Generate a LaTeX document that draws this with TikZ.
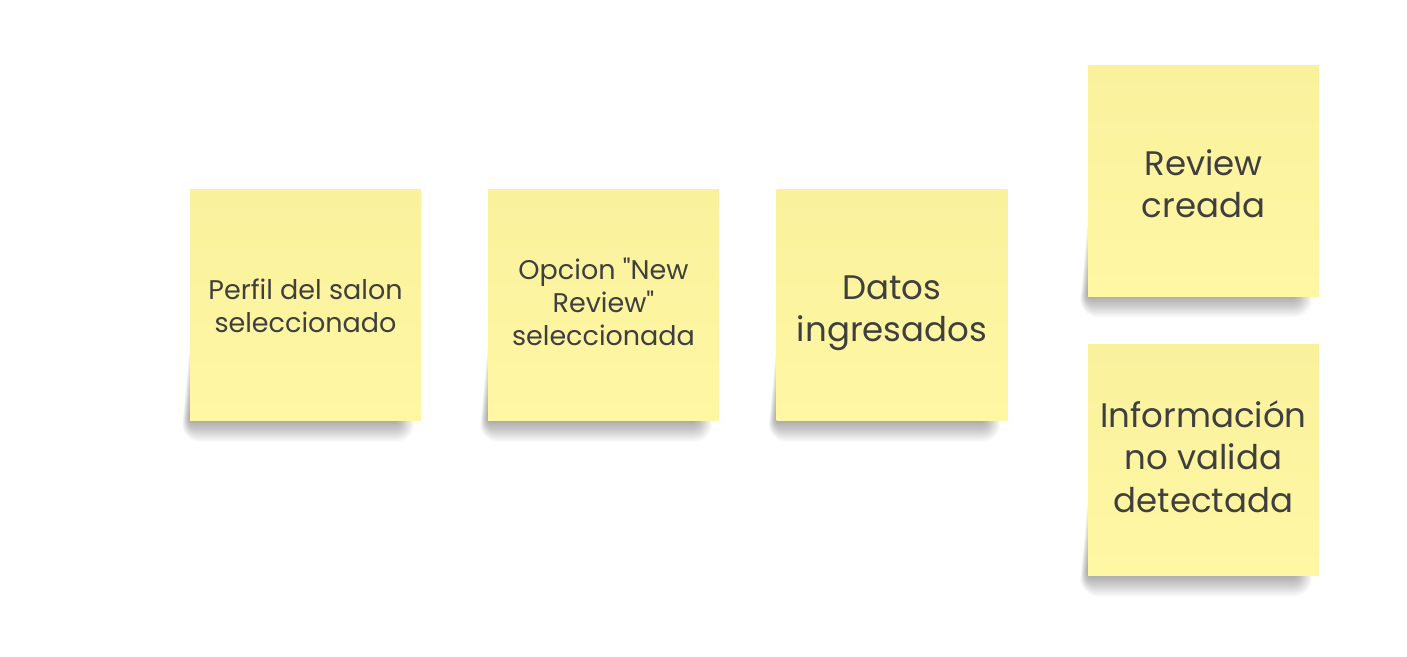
\documentclass[tikz,border=0pt]{standalone}
\usepackage{fontspec}
\setmainfont{Poppins}[Ligatures=TeXOff]
\pgfdeclarelayer{background}
\pgfsetlayers{background,main}
\definecolor{stickytop}{HTML}{FAF19D}
\definecolor{stickybot}{HTML}{FFF7A3}
\definecolor{stickytext}{HTML}{3F3F3F}
\begin{document}
\begin{tikzpicture}[x=1pt,y=-1pt,
  sticky/.style={minimum width=231pt, minimum height=231pt, inner sep=0pt,
    top color=stickytop, bottom color=stickybot, align=center, text=stickytext},
  shadowlayer/.style={fill=black, fill opacity=0.02},
  small/.style={font=\fontsize{27}{33}\selectfont},
  big/.style={font=\fontsize{34}{42.5}\selectfont}]
\useasboundingbox (0,0) rectangle (1407,656);
\node[sticky] (perfil) at (305.5,305) {};
\node[sticky] (opcion) at (603.5,305) {};
\node[sticky] (datos) at (892,305) {};
\node[sticky] (review) at (1203.5,180.5) {};
\node[sticky] (info) at (1203.5,459.5) {};
\node[small, text=stickytext, align=center] (perfilt) at (305.5,306) {Perfil del salon\\seleccionado};
\node[small, text=stickytext, align=center] (opciont) at (603.5,302) {Opcion "New\\Review"\\seleccionada};
\node[big, text=stickytext, align=center] (datost) at (892,313) {Datos\\ingresados};
\node[big, text=stickytext, align=center] (reviewt) at (1203.5,183.5) {Review\\creada};
\node[big, text=stickytext, align=center] (infot) at (1203.5,456.5) {Información\\no valida\\detectada};
\begin{pgfonlayer}{background}
\fill[white] (0,0) rectangle (1407,656);
\foreach \n in {perfil,opcion,datos,review,info}{
  \foreach \k in {0,...,17}{
    \fill[shadowlayer, rounded corners={(\k+2)*1pt}] ([xshift={-(\k*0.45)*1pt},yshift={(80-4*\k)*1pt}]\n.south west) rectangle ([xshift={-(24-\k)*1pt},yshift={-(1+1.2*\k)*1pt}]\n.south east);
  }
}
\end{pgfonlayer}
\end{tikzpicture}
\end{document}
